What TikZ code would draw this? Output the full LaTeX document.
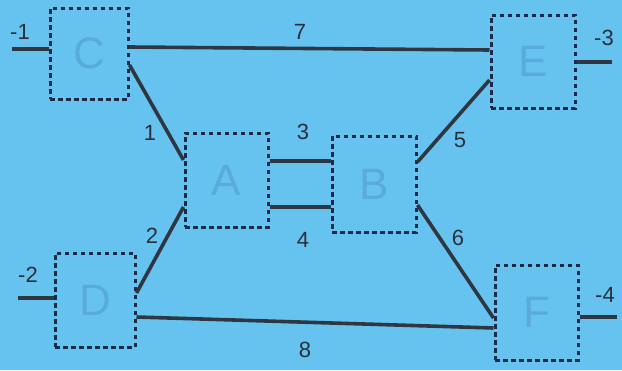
\documentclass[tikz,border=0pt]{standalone}
\usepackage{fontspec}
\setmainfont{Liberation Sans}
\definecolor{bg}{HTML}{66C3F0}
\definecolor{letter}{HTML}{5AAADB}
\definecolor{wirec}{HTML}{2E3642}
\definecolor{dots}{HTML}{1C2A4A}
\definecolor{lbl}{HTML}{2A303A}
\begin{document}
\begin{tikzpicture}[x=1pt,y=-1pt,
  blk/.style={draw=dots, line width=3pt, dash pattern=on 4.5pt off 3.5pt, inner sep=0pt,
    text=letter, font=\fontsize{44}{44}\selectfont},
  wire/.style={draw=wirec, line width=3.6pt},
  lab/.style={text=lbl, font=\fontsize{22}{22}\selectfont, inner sep=0pt}]
\fill[bg] (0,0) rectangle (622,370);
\node[blk, minimum width=78pt, minimum height=91pt] (C) at (89,53.5) {C};
\node[blk, minimum width=84pt, minimum height=93pt] (E) at (533,61.5) {E};
\node[blk, minimum width=83pt, minimum height=94pt] (A) at (226.5,180) {A};
\node[blk, minimum width=84pt, minimum height=96pt] (B) at (374,184) {B};
\node[blk, minimum width=80pt, minimum height=94pt] (D) at (95,300) {D};
\node[blk, minimum width=83pt, minimum height=95pt] (F) at (536.5,312.5) {F};
\coordinate (m1) at (12,49);
\coordinate (m2) at (18,298);
\coordinate (m3) at (612,62);
\coordinate (m4) at (617,317);
\draw[wire] (m1) -- (C.west |- m1);
\draw[wire] (C.east |- 0,47) -- (E.west |- 0,50);
\draw[wire] (C.east |- 0,65) -- (A.west |- 0,160);
\draw[wire] (A.west |- 0,207) -- (D.east |- 0,293);
\draw[wire] (A.east |- 0,161) -- (B.west |- 0,161);
\draw[wire] (A.east |- 0,207) -- (B.west |- 0,207);
\draw[wire] (B.east |- 0,162) -- (E.west |- 0,80);
\draw[wire] (B.east |- 0,205) -- (F.west |- 0,318);
\draw[wire] (D.east |- 0,317) -- (F.west |- 0,328);
\draw[wire] (m2) -- (D.west |- m2);
\draw[wire] (E.east |- m3) -- (m3);
\draw[wire] (F.east |- m4) -- (m4);
\node[lab] (l1) at (20,32) {-1};
\node[lab] (l7) at (300,32) {7};
\node[lab] (l3m) at (604,38) {-3};
\node[lab] (lo) at (150,133) {1};
\node[lab] (lt) at (303,132) {3};
\node[lab] (lf) at (460,140) {5};
\node[lab] (ltw) at (152,236) {2};
\node[lab] (lfo) at (303,240) {4};
\node[lab] (ls) at (458,238) {6};
\node[lab] (l2m) at (28,275) {-2};
\node[lab] (l4m) at (605,295) {-4};
\node[lab] (le) at (305,350) {8};
\end{tikzpicture}
\end{document}
